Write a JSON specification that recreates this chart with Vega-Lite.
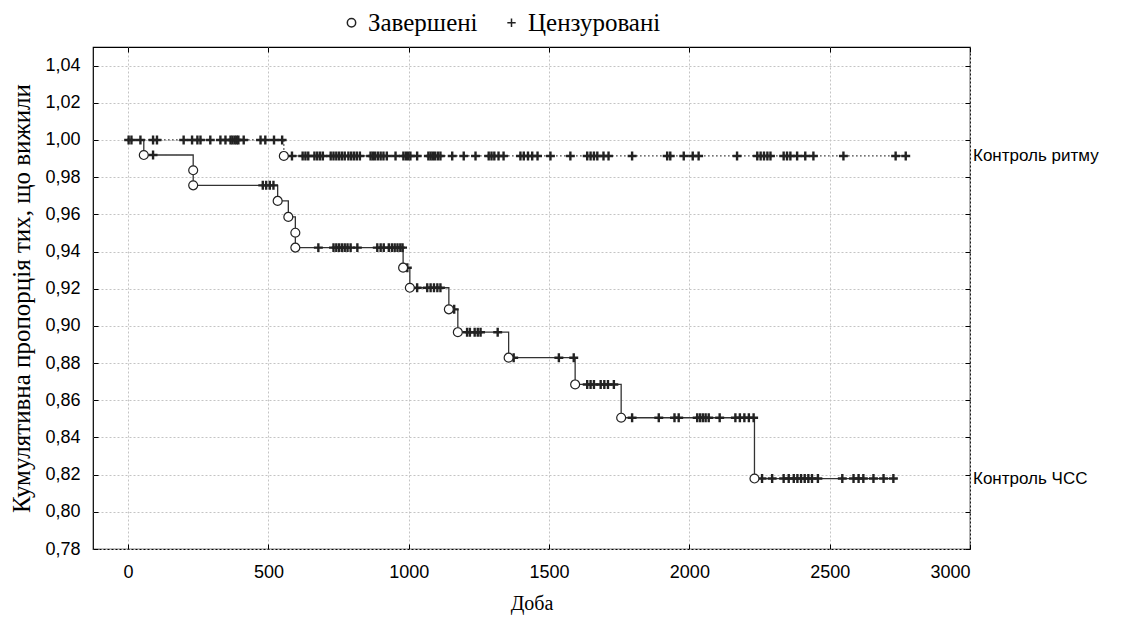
{
  "$schema": "https://vega.github.io/schema/vega-lite/v6.json",
  "autosize": {"type": "none"},
  "padding": {"left": 93, "top": 47, "right": 152, "bottom": 70},
  "width": 877,
  "height": 502,
  "background": "white",
  "config": {
    "view": {"stroke": "#000000", "strokeWidth": 1.2},
    "axis": {
      "domain": false,
      "grid": true,
      "gridColor": "#c4c4c4",
      "gridDash": [2, 2],
      "gridWidth": 1,
      "tickColor": "#000000",
      "tickSize": -5,
      "labelFont": "Liberation Sans",
      "labelFontSize": 18,
      "labelColor": "#000000",
      "titleFont": "Liberation Serif",
      "titleFontSize": 20,
      "titleFontWeight": "normal",
      "titleColor": "#000000"
    }
  },
  "datasets": {
    "steps": [
      {"g": "Контроль ЧСС", "t": 0, "s": 1.0},
      {"g": "Контроль ЧСС", "t": 56, "s": 0.9919},
      {"g": "Контроль ЧСС", "t": 232, "s": 0.9756},
      {"g": "Контроль ЧСС", "t": 533, "s": 0.9672},
      {"g": "Контроль ЧСС", "t": 571, "s": 0.9586},
      {"g": "Контроль ЧСС", "t": 596, "s": 0.9421},
      {"g": "Контроль ЧСС", "t": 980, "s": 0.9313},
      {"g": "Контроль ЧСС", "t": 1004, "s": 0.9205},
      {"g": "Контроль ЧСС", "t": 1143, "s": 0.9089},
      {"g": "Контроль ЧСС", "t": 1175, "s": 0.8966},
      {"g": "Контроль ЧСС", "t": 1356, "s": 0.8829},
      {"g": "Контроль ЧСС", "t": 1593, "s": 0.8685},
      {"g": "Контроль ЧСС", "t": 1757, "s": 0.8506},
      {"g": "Контроль ЧСС", "t": 2232, "s": 0.8179},
      {"g": "Контроль ЧСС", "t": 2740, "s": 0.8179},
      {"g": "Контроль ритму", "t": 0, "s": 1.0},
      {"g": "Контроль ритму", "t": 555, "s": 0.9914},
      {"g": "Контроль ритму", "t": 2775, "s": 0.9914}
    ],
    "marks": [
      {"g": "Контроль ритму", "t": 2, "s": 1.0, "status": "Цензуровані"},
      {"g": "Контроль ритму", "t": 12, "s": 1.0, "status": "Цензуровані"},
      {"g": "Контроль ритму", "t": 44, "s": 1.0, "status": "Цензуровані"},
      {"g": "Контроль ритму", "t": 89, "s": 1.0, "status": "Цензуровані"},
      {"g": "Контроль ритму", "t": 103, "s": 1.0, "status": "Цензуровані"},
      {"g": "Контроль ритму", "t": 198, "s": 1.0, "status": "Цензуровані"},
      {"g": "Контроль ритму", "t": 228, "s": 1.0, "status": "Цензуровані"},
      {"g": "Контроль ритму", "t": 247, "s": 1.0, "status": "Цензуровані"},
      {"g": "Контроль ритму", "t": 258, "s": 1.0, "status": "Цензуровані"},
      {"g": "Контроль ритму", "t": 293, "s": 1.0, "status": "Цензуровані"},
      {"g": "Контроль ритму", "t": 329, "s": 1.0, "status": "Цензуровані"},
      {"g": "Контроль ритму", "t": 347, "s": 1.0, "status": "Цензуровані"},
      {"g": "Контроль ритму", "t": 365, "s": 1.0, "status": "Цензуровані"},
      {"g": "Контроль ритму", "t": 372, "s": 1.0, "status": "Цензуровані"},
      {"g": "Контроль ритму", "t": 380, "s": 1.0, "status": "Цензуровані"},
      {"g": "Контроль ритму", "t": 387, "s": 1.0, "status": "Цензуровані"},
      {"g": "Контроль ритму", "t": 393, "s": 1.0, "status": "Цензуровані"},
      {"g": "Контроль ритму", "t": 412, "s": 1.0, "status": "Цензуровані"},
      {"g": "Контроль ритму", "t": 472, "s": 1.0, "status": "Цензуровані"},
      {"g": "Контроль ритму", "t": 489, "s": 1.0, "status": "Цензуровані"},
      {"g": "Контроль ритму", "t": 520, "s": 1.0, "status": "Цензуровані"},
      {"g": "Контроль ритму", "t": 549, "s": 1.0, "status": "Цензуровані"},
      {"g": "Контроль ритму", "t": 584, "s": 0.9914, "status": "Цензуровані"},
      {"g": "Контроль ритму", "t": 622, "s": 0.9914, "status": "Цензуровані"},
      {"g": "Контроль ритму", "t": 632, "s": 0.9914, "status": "Цензуровані"},
      {"g": "Контроль ритму", "t": 642, "s": 0.9914, "status": "Цензуровані"},
      {"g": "Контроль ритму", "t": 664, "s": 0.9914, "status": "Цензуровані"},
      {"g": "Контроль ритму", "t": 674, "s": 0.9914, "status": "Цензуровані"},
      {"g": "Контроль ритму", "t": 684, "s": 0.9914, "status": "Цензуровані"},
      {"g": "Контроль ритму", "t": 694, "s": 0.9914, "status": "Цензуровані"},
      {"g": "Контроль ритму", "t": 722, "s": 0.9914, "status": "Цензуровані"},
      {"g": "Контроль ритму", "t": 732, "s": 0.9914, "status": "Цензуровані"},
      {"g": "Контроль ритму", "t": 742, "s": 0.9914, "status": "Цензуровані"},
      {"g": "Контроль ритму", "t": 752, "s": 0.9914, "status": "Цензуровані"},
      {"g": "Контроль ритму", "t": 762, "s": 0.9914, "status": "Цензуровані"},
      {"g": "Контроль ритму", "t": 772, "s": 0.9914, "status": "Цензуровані"},
      {"g": "Контроль ритму", "t": 785, "s": 0.9914, "status": "Цензуровані"},
      {"g": "Контроль ритму", "t": 795, "s": 0.9914, "status": "Цензуровані"},
      {"g": "Контроль ритму", "t": 805, "s": 0.9914, "status": "Цензуровані"},
      {"g": "Контроль ритму", "t": 815, "s": 0.9914, "status": "Цензуровані"},
      {"g": "Контроль ритму", "t": 826, "s": 0.9914, "status": "Цензуровані"},
      {"g": "Контроль ритму", "t": 864, "s": 0.9914, "status": "Цензуровані"},
      {"g": "Контроль ритму", "t": 872, "s": 0.9914, "status": "Цензуровані"},
      {"g": "Контроль ритму", "t": 880, "s": 0.9914, "status": "Цензуровані"},
      {"g": "Контроль ритму", "t": 890, "s": 0.9914, "status": "Цензуровані"},
      {"g": "Контроль ритму", "t": 900, "s": 0.9914, "status": "Цензуровані"},
      {"g": "Контроль ритму", "t": 910, "s": 0.9914, "status": "Цензуровані"},
      {"g": "Контроль ритму", "t": 922, "s": 0.9914, "status": "Цензуровані"},
      {"g": "Контроль ритму", "t": 953, "s": 0.9914, "status": "Цензуровані"},
      {"g": "Контроль ритму", "t": 981, "s": 0.9914, "status": "Цензуровані"},
      {"g": "Контроль ритму", "t": 990, "s": 0.9914, "status": "Цензуровані"},
      {"g": "Контроль ритму", "t": 998, "s": 0.9914, "status": "Цензуровані"},
      {"g": "Контроль ритму", "t": 1006, "s": 0.9914, "status": "Цензуровані"},
      {"g": "Контроль ритму", "t": 1030, "s": 0.9914, "status": "Цензуровані"},
      {"g": "Контроль ритму", "t": 1070, "s": 0.9914, "status": "Цензуровані"},
      {"g": "Контроль ритму", "t": 1078, "s": 0.9914, "status": "Цензуровані"},
      {"g": "Контроль ритму", "t": 1086, "s": 0.9914, "status": "Цензуровані"},
      {"g": "Контроль ритму", "t": 1094, "s": 0.9914, "status": "Цензуровані"},
      {"g": "Контроль ритму", "t": 1104, "s": 0.9914, "status": "Цензуровані"},
      {"g": "Контроль ритму", "t": 1113, "s": 0.9914, "status": "Цензуровані"},
      {"g": "Контроль ритму", "t": 1155, "s": 0.9914, "status": "Цензуровані"},
      {"g": "Контроль ритму", "t": 1196, "s": 0.9914, "status": "Цензуровані"},
      {"g": "Контроль ритму", "t": 1238, "s": 0.9914, "status": "Цензуровані"},
      {"g": "Контроль ритму", "t": 1285, "s": 0.9914, "status": "Цензуровані"},
      {"g": "Контроль ритму", "t": 1295, "s": 0.9914, "status": "Цензуровані"},
      {"g": "Контроль ритму", "t": 1305, "s": 0.9914, "status": "Цензуровані"},
      {"g": "Контроль ритму", "t": 1320, "s": 0.9914, "status": "Цензуровані"},
      {"g": "Контроль ритму", "t": 1338, "s": 0.9914, "status": "Цензуровані"},
      {"g": "Контроль ритму", "t": 1398, "s": 0.9914, "status": "Цензуровані"},
      {"g": "Контроль ритму", "t": 1410, "s": 0.9914, "status": "Цензуровані"},
      {"g": "Контроль ритму", "t": 1425, "s": 0.9914, "status": "Цензуровані"},
      {"g": "Контроль ритму", "t": 1440, "s": 0.9914, "status": "Цензуровані"},
      {"g": "Контроль ритму", "t": 1459, "s": 0.9914, "status": "Цензуровані"},
      {"g": "Контроль ритму", "t": 1505, "s": 0.9914, "status": "Цензуровані"},
      {"g": "Контроль ритму", "t": 1576, "s": 0.9914, "status": "Цензуровані"},
      {"g": "Контроль ритму", "t": 1636, "s": 0.9914, "status": "Цензуровані"},
      {"g": "Контроль ритму", "t": 1648, "s": 0.9914, "status": "Цензуровані"},
      {"g": "Контроль ритму", "t": 1660, "s": 0.9914, "status": "Цензуровані"},
      {"g": "Контроль ритму", "t": 1672, "s": 0.9914, "status": "Цензуровані"},
      {"g": "Контроль ритму", "t": 1694, "s": 0.9914, "status": "Цензуровані"},
      {"g": "Контроль ритму", "t": 1712, "s": 0.9914, "status": "Цензуровані"},
      {"g": "Контроль ритму", "t": 1796, "s": 0.9914, "status": "Цензуровані"},
      {"g": "Контроль ритму", "t": 1921, "s": 0.9914, "status": "Цензуровані"},
      {"g": "Контроль ритму", "t": 1932, "s": 0.9914, "status": "Цензуровані"},
      {"g": "Контроль ритму", "t": 1980, "s": 0.9914, "status": "Цензуровані"},
      {"g": "Контроль ритму", "t": 2012, "s": 0.9914, "status": "Цензуровані"},
      {"g": "Контроль ритму", "t": 2033, "s": 0.9914, "status": "Цензуровані"},
      {"g": "Контроль ритму", "t": 2170, "s": 0.9914, "status": "Цензуровані"},
      {"g": "Контроль ритму", "t": 2242, "s": 0.9914, "status": "Цензуровані"},
      {"g": "Контроль ритму", "t": 2254, "s": 0.9914, "status": "Цензуровані"},
      {"g": "Контроль ритму", "t": 2266, "s": 0.9914, "status": "Цензуровані"},
      {"g": "Контроль ритму", "t": 2278, "s": 0.9914, "status": "Цензуровані"},
      {"g": "Контроль ритму", "t": 2289, "s": 0.9914, "status": "Цензуровані"},
      {"g": "Контроль ритму", "t": 2336, "s": 0.9914, "status": "Цензуровані"},
      {"g": "Контроль ритму", "t": 2348, "s": 0.9914, "status": "Цензуровані"},
      {"g": "Контроль ритму", "t": 2360, "s": 0.9914, "status": "Цензуровані"},
      {"g": "Контроль ритму", "t": 2384, "s": 0.9914, "status": "Цензуровані"},
      {"g": "Контроль ритму", "t": 2413, "s": 0.9914, "status": "Цензуровані"},
      {"g": "Контроль ритму", "t": 2442, "s": 0.9914, "status": "Цензуровані"},
      {"g": "Контроль ритму", "t": 2549, "s": 0.9914, "status": "Цензуровані"},
      {"g": "Контроль ритму", "t": 2735, "s": 0.9914, "status": "Цензуровані"},
      {"g": "Контроль ритму", "t": 2771, "s": 0.9914, "status": "Цензуровані"},
      {"g": "Контроль ЧСС", "t": 89, "s": 0.9919, "status": "Цензуровані"},
      {"g": "Контроль ЧСС", "t": 480, "s": 0.9756, "status": "Цензуровані"},
      {"g": "Контроль ЧСС", "t": 492, "s": 0.9756, "status": "Цензуровані"},
      {"g": "Контроль ЧСС", "t": 505, "s": 0.9756, "status": "Цензуровані"},
      {"g": "Контроль ЧСС", "t": 518, "s": 0.9756, "status": "Цензуровані"},
      {"g": "Контроль ЧСС", "t": 678, "s": 0.9421, "status": "Цензуровані"},
      {"g": "Контроль ЧСС", "t": 732, "s": 0.9421, "status": "Цензуровані"},
      {"g": "Контроль ЧСС", "t": 742, "s": 0.9421, "status": "Цензуровані"},
      {"g": "Контроль ЧСС", "t": 752, "s": 0.9421, "status": "Цензуровані"},
      {"g": "Контроль ЧСС", "t": 762, "s": 0.9421, "status": "Цензуровані"},
      {"g": "Контроль ЧСС", "t": 772, "s": 0.9421, "status": "Цензуровані"},
      {"g": "Контроль ЧСС", "t": 782, "s": 0.9421, "status": "Цензуровані"},
      {"g": "Контроль ЧСС", "t": 793, "s": 0.9421, "status": "Цензуровані"},
      {"g": "Контроль ЧСС", "t": 817, "s": 0.9421, "status": "Цензуровані"},
      {"g": "Контроль ЧСС", "t": 888, "s": 0.9421, "status": "Цензуровані"},
      {"g": "Контроль ЧСС", "t": 900, "s": 0.9421, "status": "Цензуровані"},
      {"g": "Контроль ЧСС", "t": 911, "s": 0.9421, "status": "Цензуровані"},
      {"g": "Контроль ЧСС", "t": 929, "s": 0.9421, "status": "Цензуровані"},
      {"g": "Контроль ЧСС", "t": 940, "s": 0.9421, "status": "Цензуровані"},
      {"g": "Контроль ЧСС", "t": 950, "s": 0.9421, "status": "Цензуровані"},
      {"g": "Контроль ЧСС", "t": 960, "s": 0.9421, "status": "Цензуровані"},
      {"g": "Контроль ЧСС", "t": 970, "s": 0.9421, "status": "Цензуровані"},
      {"g": "Контроль ЧСС", "t": 978, "s": 0.9421, "status": "Цензуровані"},
      {"g": "Контроль ЧСС", "t": 995, "s": 0.9313, "status": "Цензуровані"},
      {"g": "Контроль ЧСС", "t": 1030, "s": 0.9205, "status": "Цензуровані"},
      {"g": "Контроль ЧСС", "t": 1066, "s": 0.9205, "status": "Цензуровані"},
      {"g": "Контроль ЧСС", "t": 1078, "s": 0.9205, "status": "Цензуровані"},
      {"g": "Контроль ЧСС", "t": 1090, "s": 0.9205, "status": "Цензуровані"},
      {"g": "Контроль ЧСС", "t": 1102, "s": 0.9205, "status": "Цензуровані"},
      {"g": "Контроль ЧСС", "t": 1113, "s": 0.9205, "status": "Цензуровані"},
      {"g": "Контроль ЧСС", "t": 1162, "s": 0.9089, "status": "Цензуровані"},
      {"g": "Контроль ЧСС", "t": 1208, "s": 0.8966, "status": "Цензуровані"},
      {"g": "Контроль ЧСС", "t": 1218, "s": 0.8966, "status": "Цензуровані"},
      {"g": "Контроль ЧСС", "t": 1235, "s": 0.8966, "status": "Цензуровані"},
      {"g": "Контроль ЧСС", "t": 1246, "s": 0.8966, "status": "Цензуровані"},
      {"g": "Контроль ЧСС", "t": 1256, "s": 0.8966, "status": "Цензуровані"},
      {"g": "Контроль ЧСС", "t": 1317, "s": 0.8966, "status": "Цензуровані"},
      {"g": "Контроль ЧСС", "t": 1374, "s": 0.8829, "status": "Цензуровані"},
      {"g": "Контроль ЧСС", "t": 1535, "s": 0.8829, "status": "Цензуровані"},
      {"g": "Контроль ЧСС", "t": 1588, "s": 0.8829, "status": "Цензуровані"},
      {"g": "Контроль ЧСС", "t": 1636, "s": 0.8685, "status": "Цензуровані"},
      {"g": "Контроль ЧСС", "t": 1648, "s": 0.8685, "status": "Цензуровані"},
      {"g": "Контроль ЧСС", "t": 1660, "s": 0.8685, "status": "Цензуровані"},
      {"g": "Контроль ЧСС", "t": 1684, "s": 0.8685, "status": "Цензуровані"},
      {"g": "Контроль ЧСС", "t": 1697, "s": 0.8685, "status": "Цензуровані"},
      {"g": "Контроль ЧСС", "t": 1710, "s": 0.8685, "status": "Цензуровані"},
      {"g": "Контроль ЧСС", "t": 1731, "s": 0.8685, "status": "Цензуровані"},
      {"g": "Контроль ЧСС", "t": 1796, "s": 0.8506, "status": "Цензуровані"},
      {"g": "Контроль ЧСС", "t": 1891, "s": 0.8506, "status": "Цензуровані"},
      {"g": "Контроль ЧСС", "t": 1947, "s": 0.8506, "status": "Цензуровані"},
      {"g": "Контроль ЧСС", "t": 1962, "s": 0.8506, "status": "Цензуровані"},
      {"g": "Контроль ЧСС", "t": 2028, "s": 0.8506, "status": "Цензуровані"},
      {"g": "Контроль ЧСС", "t": 2038, "s": 0.8506, "status": "Цензуровані"},
      {"g": "Контроль ЧСС", "t": 2048, "s": 0.8506, "status": "Цензуровані"},
      {"g": "Контроль ЧСС", "t": 2058, "s": 0.8506, "status": "Цензуровані"},
      {"g": "Контроль ЧСС", "t": 2069, "s": 0.8506, "status": "Цензуровані"},
      {"g": "Контроль ЧСС", "t": 2108, "s": 0.8506, "status": "Цензуровані"},
      {"g": "Контроль ЧСС", "t": 2164, "s": 0.8506, "status": "Цензуровані"},
      {"g": "Контроль ЧСС", "t": 2180, "s": 0.8506, "status": "Цензуровані"},
      {"g": "Контроль ЧСС", "t": 2196, "s": 0.8506, "status": "Цензуровані"},
      {"g": "Контроль ЧСС", "t": 2212, "s": 0.8506, "status": "Цензуровані"},
      {"g": "Контроль ЧСС", "t": 2229, "s": 0.8506, "status": "Цензуровані"},
      {"g": "Контроль ЧСС", "t": 2259, "s": 0.8179, "status": "Цензуровані"},
      {"g": "Контроль ЧСС", "t": 2295, "s": 0.8179, "status": "Цензуровані"},
      {"g": "Контроль ЧСС", "t": 2336, "s": 0.8179, "status": "Цензуровані"},
      {"g": "Контроль ЧСС", "t": 2354, "s": 0.8179, "status": "Цензуровані"},
      {"g": "Контроль ЧСС", "t": 2372, "s": 0.8179, "status": "Цензуровані"},
      {"g": "Контроль ЧСС", "t": 2385, "s": 0.8179, "status": "Цензуровані"},
      {"g": "Контроль ЧСС", "t": 2398, "s": 0.8179, "status": "Цензуровані"},
      {"g": "Контроль ЧСС", "t": 2411, "s": 0.8179, "status": "Цензуровані"},
      {"g": "Контроль ЧСС", "t": 2424, "s": 0.8179, "status": "Цензуровані"},
      {"g": "Контроль ЧСС", "t": 2437, "s": 0.8179, "status": "Цензуровані"},
      {"g": "Контроль ЧСС", "t": 2458, "s": 0.8179, "status": "Цензуровані"},
      {"g": "Контроль ЧСС", "t": 2545, "s": 0.8179, "status": "Цензуровані"},
      {"g": "Контроль ЧСС", "t": 2585, "s": 0.8179, "status": "Цензуровані"},
      {"g": "Контроль ЧСС", "t": 2603, "s": 0.8179, "status": "Цензуровані"},
      {"g": "Контроль ЧСС", "t": 2620, "s": 0.8179, "status": "Цензуровані"},
      {"g": "Контроль ЧСС", "t": 2656, "s": 0.8179, "status": "Цензуровані"},
      {"g": "Контроль ЧСС", "t": 2692, "s": 0.8179, "status": "Цензуровані"},
      {"g": "Контроль ЧСС", "t": 2727, "s": 0.8179, "status": "Цензуровані"},
      {"g": "Контроль ритму", "t": 555, "s": 0.9914, "status": "Завершені"},
      {"g": "Контроль ЧСС", "t": 56, "s": 0.9919, "status": "Завершені"},
      {"g": "Контроль ЧСС", "t": 232, "s": 0.9837, "status": "Завершені"},
      {"g": "Контроль ЧСС", "t": 232, "s": 0.9756, "status": "Завершені"},
      {"g": "Контроль ЧСС", "t": 533, "s": 0.9672, "status": "Завершені"},
      {"g": "Контроль ЧСС", "t": 571, "s": 0.9586, "status": "Завершені"},
      {"g": "Контроль ЧСС", "t": 596, "s": 0.9501, "status": "Завершені"},
      {"g": "Контроль ЧСС", "t": 596, "s": 0.9421, "status": "Завершені"},
      {"g": "Контроль ЧСС", "t": 980, "s": 0.9313, "status": "Завершені"},
      {"g": "Контроль ЧСС", "t": 1004, "s": 0.9205, "status": "Завершені"},
      {"g": "Контроль ЧСС", "t": 1143, "s": 0.9089, "status": "Завершені"},
      {"g": "Контроль ЧСС", "t": 1175, "s": 0.8966, "status": "Завершені"},
      {"g": "Контроль ЧСС", "t": 1356, "s": 0.8829, "status": "Завершені"},
      {"g": "Контроль ЧСС", "t": 1593, "s": 0.8685, "status": "Завершені"},
      {"g": "Контроль ЧСС", "t": 1757, "s": 0.8506, "status": "Завершені"},
      {"g": "Контроль ЧСС", "t": 2232, "s": 0.8179, "status": "Завершені"}
    ],
    "labels": [
      {"g": "Контроль ритму", "t": 3000, "s": 0.9914},
      {"g": "Контроль ЧСС", "t": 3000, "s": 0.8179}
    ]
  },
  "layer": [
    {
      "data": {"name": "steps"},
      "mark": {"type": "line", "interpolate": "step-after", "color": "#333333", "strokeWidth": 1.3},
      "encoding": {
        "x": {
          "field": "t", "type": "quantitative",
          "scale": {"domain": [-125, 3000], "nice": false, "zero": false},
          "axis": {"values": [0, 500, 1000, 1500, 2000, 2500, 3000], "format": "d", "title": "Доба", "labelPadding": 19, "titlePadding": 12}
        },
        "y": {
          "field": "s", "type": "quantitative",
          "scale": {"domain": [0.78, 1.05], "nice": false, "zero": false},
          "axis": {
            "values": [0.78, 0.8, 0.82, 0.84, 0.86, 0.88, 0.9, 0.92, 0.94, 0.96, 0.98, 1.0, 1.02, 1.04],
            "labelExpr": "replace(format(datum.value, '.2f'), '.', ',')",
            "title": "Кумулятивна пропорція тих, що вижили",
            "titleFontSize": 25,
            "labelPadding": 18, "titlePadding": 10
          }
        },
        "detail": {"field": "g"},
        "strokeDash": {
          "field": "g", "type": "nominal",
          "scale": {"domain": ["Контроль ЧСС", "Контроль ритму"], "range": [[1, 0], [1.5, 2.5]]},
          "legend": null
        }
      }
    },
    {
      "data": {"name": "marks"},
      "mark": {"type": "point", "filled": true, "fill": "white", "stroke": "#222222", "opacity": 1, "size": 80},
      "encoding": {
        "x": {"field": "t", "type": "quantitative", "axis": {"orient": "top", "values": [0, 500, 1000, 1500, 2000, 2500, 3000], "labels": false, "grid": false, "title": null}},
        "y": {"field": "s", "type": "quantitative", "axis": {"orient": "right", "values": [0.78, 0.8, 0.82, 0.84, 0.86, 0.88, 0.9, 0.92, 0.94, 0.96, 0.98, 1.0, 1.02, 1.04], "labels": false, "grid": false, "title": null}},
        "shape": {
          "field": "status", "type": "nominal",
          "scale": {"domain": ["Завершені", "Цензуровані"], "range": ["circle", "M-1,0H1M0,-1V1"]},
          "legend": {
            "title": null, "orient": "none", "direction": "horizontal",
            "legendX": 246, "legendY": -37,
            "labelFont": "Liberation Serif", "labelFontSize": 25, "labelColor": "#000000",
            "labelOffset": 4, "columnPadding": 21, "symbolSize": 70,
            "encode": {
              "symbols": {
                "update": {
                  "stroke": {"value": "#222222"},
                  "fill": {"value": "white"},
                  "strokeWidth": {"signal": "datum.value === 'Цензуровані' ? 2.6 : 1.3"},
                  "opacity": {"value": 1}
                }
              }
            }
          }
        },
        "strokeWidth": {
          "condition": {"test": "datum.status === 'Цензуровані'", "value": 2.4},
          "value": 1.2
        }
      }
    },
    {
      "data": {"name": "labels"},
      "mark": {"type": "text", "align": "left", "baseline": "middle", "dx": 3, "font": "Liberation Sans", "fontSize": 17, "color": "#000000"},
      "encoding": {
        "x": {"field": "t", "type": "quantitative", "axis": null},
        "y": {"field": "s", "type": "quantitative", "axis": null},
        "text": {"field": "g"}
      }
    }
  ],
  "resolve": {"axis": {"x": "independent", "y": "independent"}}
}
